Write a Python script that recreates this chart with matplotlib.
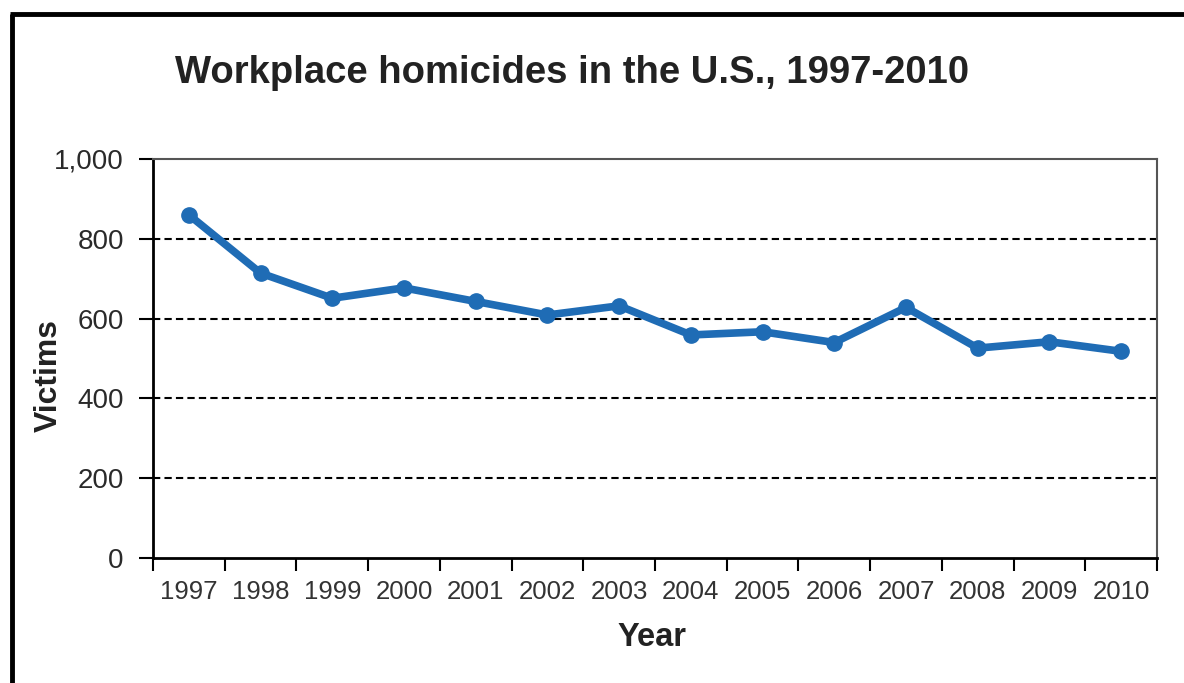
import matplotlib
matplotlib.use("Agg")
import matplotlib.pyplot as plt
from matplotlib.lines import Line2D
import numpy as np

years = ["1997", "1998", "1999", "2000", "2001", "2002", "2003",
         "2004", "2005", "2006", "2007", "2008", "2009", "2010"]
victims = [860, 714, 651, 677, 643, 609, 632, 559, 567, 540, 628, 526, 542, 518]
y_ticks = [0, 200, 400, 600, 800, 1000]
y_tick_labels = ["0", "200", "400", "600", "800", "1,000"]

plt.rcParams['font.family'] = ['Liberation Sans', 'DejaVu Sans']

W, H = 1184, 683
fig = plt.figure(figsize=(W / 100, H / 100), dpi=100)
fig.patch.set_facecolor("white")

# outer frame (left and top visible)
fig.add_artist(Line2D([12 / W, 12 / W], [0, 1 - 14 / H], transform=fig.transFigure,
                      color="black", lw=3.5, solid_capstyle="butt"))
fig.add_artist(Line2D([10 / W, 1], [1 - 14 / H, 1 - 14 / H], transform=fig.transFigure,
                      color="black", lw=3.5, solid_capstyle="butt"))

left, right, top, bottom = 153, 1157, 159, 558
ax = fig.add_axes([left / W, 1 - bottom / H, (right - left) / W, (bottom - top) / H])

x = np.arange(len(years))
ax.plot(x, victims, color="#1f6cb5", lw=5.5, marker="o", ms=11,
        markerfacecolor="#1f6cb5", markeredgecolor="#1f6cb5", zorder=3,
        solid_joinstyle="round")

ax.set_xlim(-0.5, len(years) - 0.5)
ax.set_ylim(0, 1000)
ax.set_yticks(y_ticks)
ax.set_yticklabels(y_tick_labels, fontsize=20, color="#2a2a2a")

ax.set_xticks(x)
ax.set_xticklabels(years, fontsize=18.5, color="#333333")
ax.set_xticks(np.arange(-0.5, len(years), 1), minor=True)
ax.tick_params(axis="x", which="major", length=0, pad=16)
ax.tick_params(axis="x", which="minor", length=9, width=1.5, direction="out", color="black")
ax.tick_params(axis="y", length=10, width=1.5, color="black", pad=11)

for v in y_ticks[1:-1]:
    ax.axhline(v, color="black", lw=1.5, ls=(0, (3.5, 2)), zorder=1)

ax.spines["left"].set_color("black")
ax.spines["left"].set_linewidth(2)
ax.spines["bottom"].set_color("black")
ax.spines["bottom"].set_linewidth(2)
ax.spines["top"].set_color("#555555")
ax.spines["top"].set_linewidth(1.5)
ax.spines["right"].set_color("#555555")
ax.spines["right"].set_linewidth(1.5)

ax.set_ylabel("Victims", fontsize=23, fontweight="bold", color="#222222")
ax.yaxis.label.set_verticalalignment("center")
ax.yaxis.set_label_coords((49 - left) / (right - left), (bottom - 375) / (bottom - top))
ax.set_xlabel("Year", fontsize=23.5, fontweight="bold", color="#222222")
ax.xaxis.label.set_verticalalignment("center")
ax.xaxis.set_label_coords((652 - left) / (right - left), (bottom - 637) / (bottom - top))

fig.text(572 / W, 1 - 83 / H, "Workplace homicides in the U.S., 1997-2010",
         ha="center", va="baseline", fontsize=27.5, fontweight="bold", color="#222222")

fig.savefig("out.png", dpi=100)
